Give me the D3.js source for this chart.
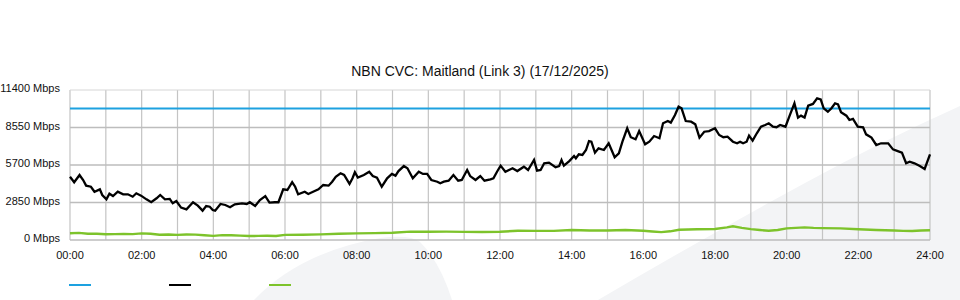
<!DOCTYPE html>
<html>
<head>
<meta charset="utf-8">
<script src="https://cdn.jsdelivr.net/npm/d3@7"></script>
<style>
  html, body { margin: 0; padding: 0; background: #fff; }
  svg { display: block; font-family: "Liberation Sans", Arial, sans-serif; }
</style>
</head>
<body>
<svg id="chart" width="960" height="300"></svg>
<script>
// ---- data ----
const chartTitle = "NBN CVC: Maitland (Link 3) (17/12/2025)";
const xTickLabels = ["00:00","02:00","04:00","06:00","08:00","10:00","12:00","14:00","16:00","18:00","20:00","22:00","24:00"];
const xTickMinutes = [0,120,240,360,480,600,720,840,960,1080,1200,1320,1440];
const hourGridMinutes = [0,60,120,180,240,300,360,420,480,540,600,660,720,780,840,900,960,1020,1080,1140,1200,1260,1320,1380,1440];
const yTicks = [0, 2850, 5700, 8550, 11400];
const yMax = 11400;
const capacityMbps = 10000;

const trafficMinutes = [0,7,16,22,27,35,41,50,54,61,66,72,80,89,97,105,111,119,128,136,145,151,159,167,172,178,186,195,206,214,222,228,234,239,243,252,260,268,276,288,296,301,310,318,327,334,343,349,357,364,372,377,382,393,399,407,416,424,433,439,445,453,459,468,473,477,482,492,501,507,514,522,531,539,545,550,559,565,574,584,591,598,605,615,620,626,634,642,650,656,665,670,679,687,694,704,709,715,721,729,741,749,760,767,777,782,788,794,802,813,819,823,827,836,844,847,852,858,864,869,873,879,885,894,902,912,919,925,933,939,947,953,963,970,978,987,993,1001,1006,1013,1019,1024,1031,1040,1047,1054,1062,1070,1080,1087,1094,1101,1110,1117,1122,1127,1133,1137,1143,1150,1157,1164,1170,1177,1183,1189,1198,1205,1213,1219,1224,1230,1236,1244,1251,1257,1262,1269,1275,1281,1286,1291,1300,1305,1311,1319,1328,1333,1342,1350,1358,1370,1378,1386,1393,1400,1406,1414,1423,1431,1440];
const trafficMbps = [4810,4390,4940,4560,4130,4050,3670,3850,3420,3090,3520,3340,3670,3470,3470,3290,3550,3370,3090,2870,3170,3420,3090,3120,2790,2960,2460,2330,2870,2610,2230,2580,2530,2280,2230,2740,2660,2490,2710,2790,2740,2870,2580,3040,3340,2840,2870,2870,3850,3800,4390,4050,3470,3670,3500,3670,3850,4180,4130,4430,4810,5070,4940,4260,4690,5150,4740,4940,5190,4860,4740,4050,4690,5020,4890,5240,5620,5450,4690,5190,5020,5020,4560,4430,4310,4430,4510,4940,4510,4560,5320,4860,4560,4860,4510,4610,4690,5190,5650,5190,5450,5240,5570,5320,6080,5270,5320,5830,5880,5530,5620,6080,5650,6000,6380,6210,6510,6460,6840,7520,7470,6640,6970,6840,7350,6290,6590,7470,8490,7810,7650,8280,7270,7470,7900,7730,8870,9040,8920,9500,10130,10010,9040,8990,8790,7780,8230,8280,8490,7980,7810,7850,7470,7350,7470,7350,7470,7930,7550,8110,8610,8740,8870,8610,8570,8740,8610,9450,10390,9300,9450,9300,10210,10340,10770,10690,10010,9750,10010,10390,10310,9710,9450,9120,9200,8610,8570,8030,7780,7220,7350,7350,6890,6760,6640,5830,5950,5830,5620,5400,6510];

const lowMinutes = [0,15,30,45,60,75,90,105,120,135,150,165,180,195,210,225,240,255,270,285,300,315,330,345,360,390,420,450,480,510,540,570,600,630,660,690,720,750,780,810,840,870,900,930,960,975,990,1005,1020,1050,1080,1100,1110,1125,1140,1155,1170,1185,1200,1215,1230,1245,1260,1290,1320,1350,1380,1395,1410,1425,1440];
const lowMbps = [510,540,480,470,440,450,460,450,500,480,400,420,390,420,410,360,310,370,360,330,300,310,320,300,390,400,430,470,500,520,550,640,630,640,620,610,630,700,690,690,760,720,720,760,700,650,600,660,780,820,840,960,1040,920,830,760,700,760,880,920,960,920,900,880,820,760,720,690,680,720,740];

const legendColors = ["#1da1e0", "#000000", "#7dc32b"];

// ---- layout ----
const svg = d3.select("#chart");
const plotL = 70, plotR = 930, plotT = 90, plotB = 240;

const x = d3.scaleLinear().domain([0, 1440]).range([plotL, plotR]);
const y = d3.scaleLinear().domain([0, yMax]).range([plotB, plotT]);

// background swooshes
const bg = svg.append("g").attr("fill", "#f3f4f6");
bg.append("path").attr("d", "M254,300 Q300,252 380,238 Q410,234 420,242 Q440,262 452,300 Z");
bg.append("path").attr("d", "M598,300 Q700,240 805,183 Q880,142 960,106 L960,300 Z");

// grid
const grid = svg.append("g");
grid.selectAll("line.v").data(hourGridMinutes).join("line")
  .attr("x1", d => x(d)).attr("x2", d => x(d))
  .attr("y1", plotT).attr("y2", plotB)
  .attr("stroke", "#c4c4c4").attr("stroke-width", 1.2);
grid.selectAll("line.h").data(yTicks).join("line")
  .attr("x1", plotL).attr("x2", plotR)
  .attr("y1", d => y(d)).attr("y2", d => y(d))
  .attr("stroke", d => d === yMax ? "#d6d6d6" : "#bdbdbd")
  .attr("stroke-width", d => d === yMax ? 1 : 1.6);

// y labels
svg.append("g").selectAll("text").data(yTicks).join("text")
  .attr("x", 60).attr("y", d => y(d) + 2)
  .attr("text-anchor", "end")
  .attr("font-size", 11).attr("fill", "#111")
  .text(d => d + " Mbps");

// x labels
svg.append("g").selectAll("text").data(xTickMinutes).join("text")
  .attr("x", d => x(d)).attr("y", 259)
  .attr("text-anchor", "middle")
  .attr("font-size", 11).attr("fill", "#111")
  .text((d, i) => xTickLabels[i]);

// title
svg.append("text").attr("x", 480).attr("y", 76)
  .attr("text-anchor", "middle").attr("font-size", 14).attr("fill", "#111")
  .text(chartTitle);

// capacity line
svg.append("line")
  .attr("x1", x(0)).attr("x2", x(1440))
  .attr("y1", y(capacityMbps)).attr("y2", y(capacityMbps))
  .attr("stroke", legendColors[0]).attr("stroke-width", 2);

// low series
const lowData = lowMinutes.map((m, i) => [m, lowMbps[i]]);
svg.append("path").datum(lowData)
  .attr("fill", "none").attr("stroke", legendColors[2]).attr("stroke-width", 2.4)
  .attr("d", d3.line().x(d => x(d[0])).y(d => y(d[1])));

// traffic series
const trafficData = trafficMinutes.map((m, i) => [m, trafficMbps[i]]);
svg.append("path").datum(trafficData)
  .attr("fill", "none").attr("stroke", legendColors[1]).attr("stroke-width", 2.3)
  .attr("stroke-linejoin", "miter")
  .attr("d", d3.line().x(d => x(d[0])).y(d => y(d[1])));

// legend (no labels)
svg.append("g").selectAll("line").data(legendColors).join("line")
  .attr("x1", (d, i) => 69 + i * 100).attr("x2", (d, i) => 91 + i * 100)
  .attr("y1", 285).attr("y2", 285)
  .attr("stroke", d => d).attr("stroke-width", 2);
</script>
</body>
</html>
